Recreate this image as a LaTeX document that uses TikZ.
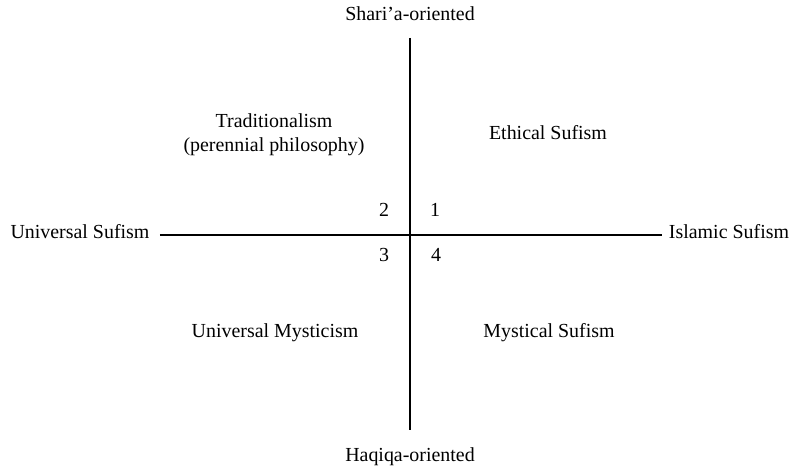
\documentclass[tikz,border=0pt]{standalone}
\usepackage{fontspec}
\setmainfont{Liberation Serif}
\begin{document}
\begin{tikzpicture}[x=1bp,y=1bp, every node/.style={font=\fontsize{20}{24}\selectfont,inner sep=0pt},
  axis/.style={line width=1.5bp,black},
  quad/.style={align=center}]
\useasboundingbox (-410,-236) rectangle (380,235);
% axis ends
\node[anchor=base] (shari) at (0,214) {Shari'a-oriented};
\node[anchor=base] (haqiqa) at (0,-227) {Haqiqa-oriented};
\node[anchor=base] (usuf) at (-330,-4) {Universal Sufism};
\node[anchor=base] (isuf) at (319,-4) {Islamic Sufism};
\coordinate (top) at (0,197); \coordinate (bot) at (0,-195);
\coordinate (lft) at (-250,0); \coordinate (rgt) at (252,0);
\draw[axis] (top) -- (bot);
\draw[axis] (lft) -- (rgt);
% quadrants
\node[quad] (trad) at (-136,100) {Traditionalism\\(perennial philosophy)};
\node[quad] (ethic) at (138,102) {Ethical Sufism};
\node[quad] (umyst) at (-135,-98) {Universal Mysticism};
\node[quad] (msuf) at (139,-98) {Mystical Sufism};
% numbers
\node[anchor=base] (n1) at (25,18) {1};
\node[anchor=base] (n2) at (-26,18) {2};
\node[anchor=base] (n3) at (-26,-27) {3};
\node[anchor=base] (n4) at (26,-27) {4};
\end{tikzpicture}
\end{document}
